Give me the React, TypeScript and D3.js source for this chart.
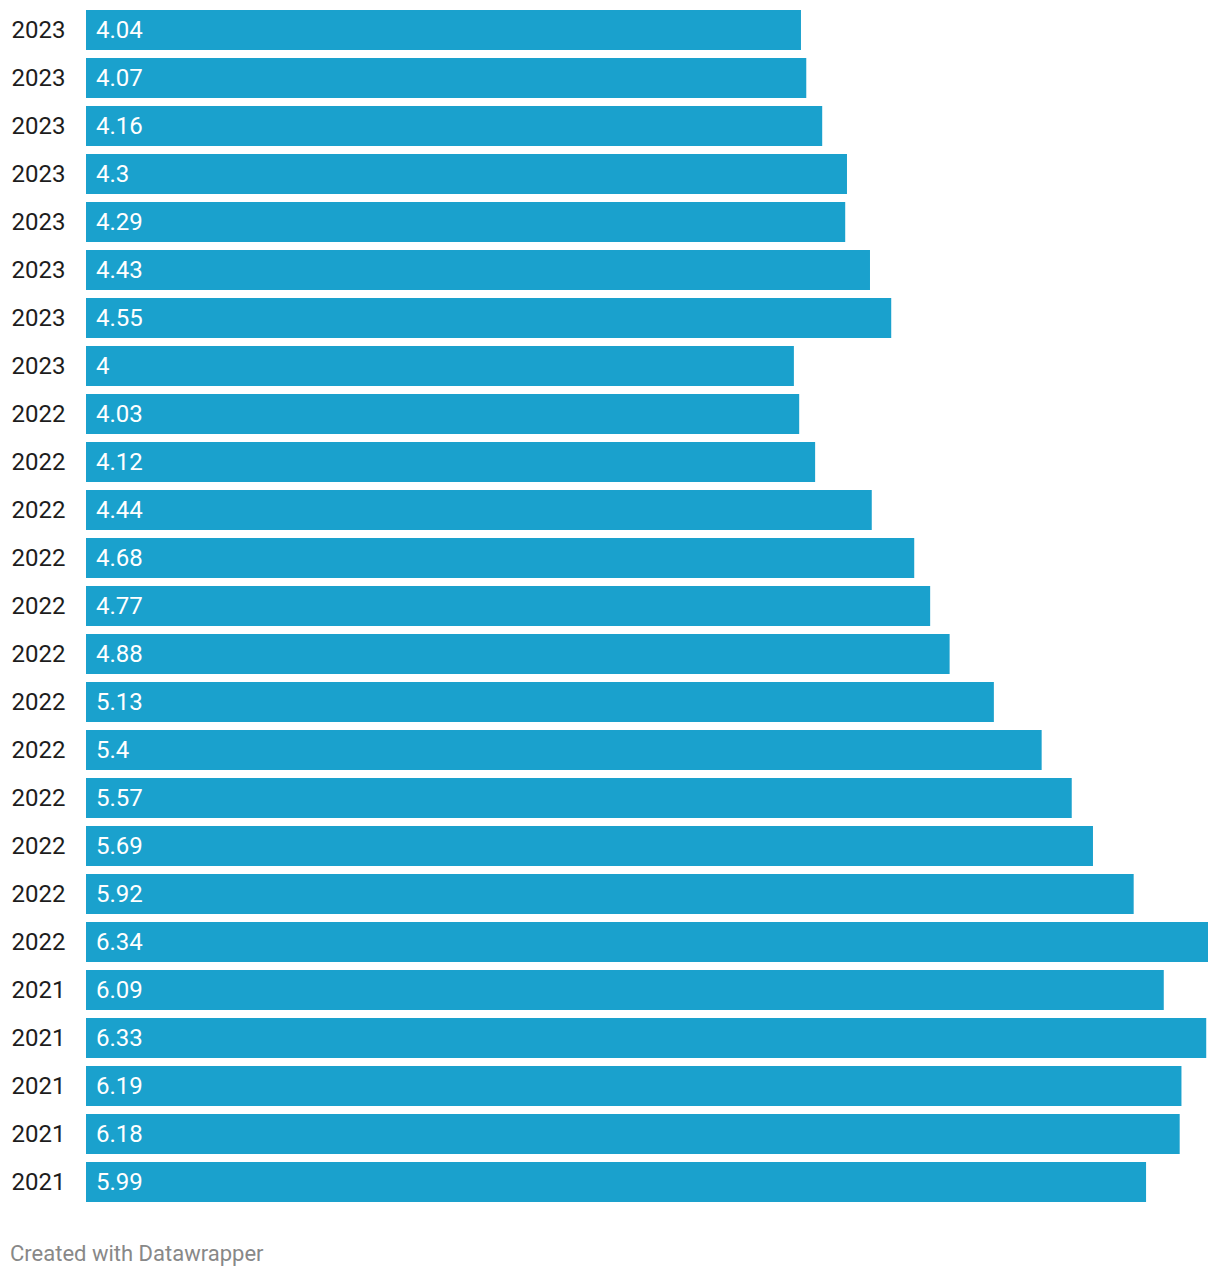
import React from "react";
import * as d3 from "d3";

const years = ["2023","2023","2023","2023","2023","2023","2023","2023","2022","2022","2022","2022","2022","2022","2022","2022","2022","2022","2022","2022","2021","2021","2021","2021","2021"];
const values = [4.04,4.07,4.16,4.3,4.29,4.43,4.55,4,4.03,4.12,4.44,4.68,4.77,4.88,5.13,5.4,5.57,5.69,5.92,6.34,6.09,6.33,6.19,6.18,5.99];
const footer = "Created with Datawrapper";

export default function App() {
  const W = 1220, H = 1278;
  const idx = values.map((_, i) => i);
  const x = d3.scaleLinear().domain([0, d3.max(values) as number]).range([86, 1208]);
  const y = d3.scaleBand<number>().domain(idx).range([10, 1202]).paddingInner(1 / 6).paddingOuter(0);
  const font = "Roboto, 'Noto Sans', sans-serif";
  return (
    <svg width={W} height={H} style={{ position: "absolute", left: 0, top: 0 }} fontFamily={font}>
      <rect width={W} height={H} fill="#fff" />
      {idx.map((i) => {
        const yy = y(i) as number;
        const cy = yy + y.bandwidth() / 2;
        return (
          <g key={i}>
            <rect x={x(0)} y={yy} width={x(values[i]) - x(0)} height={y.bandwidth()} fill="#1aa1cd" />
            <text x={65.5} y={cy} dy="0.32em" textAnchor="end" fontSize={24} fill="#1d1d1d">{years[i]}</text>
            <text x={96} y={cy} dy="0.32em" textAnchor="start" fontSize={24} fill="#fff">{String(values[i])}</text>
          </g>
        );
      })}
      <text x={10} y={1254} dy="0.32em" fontSize={22} fill="#888">{footer}</text>
    </svg>
  );
}
